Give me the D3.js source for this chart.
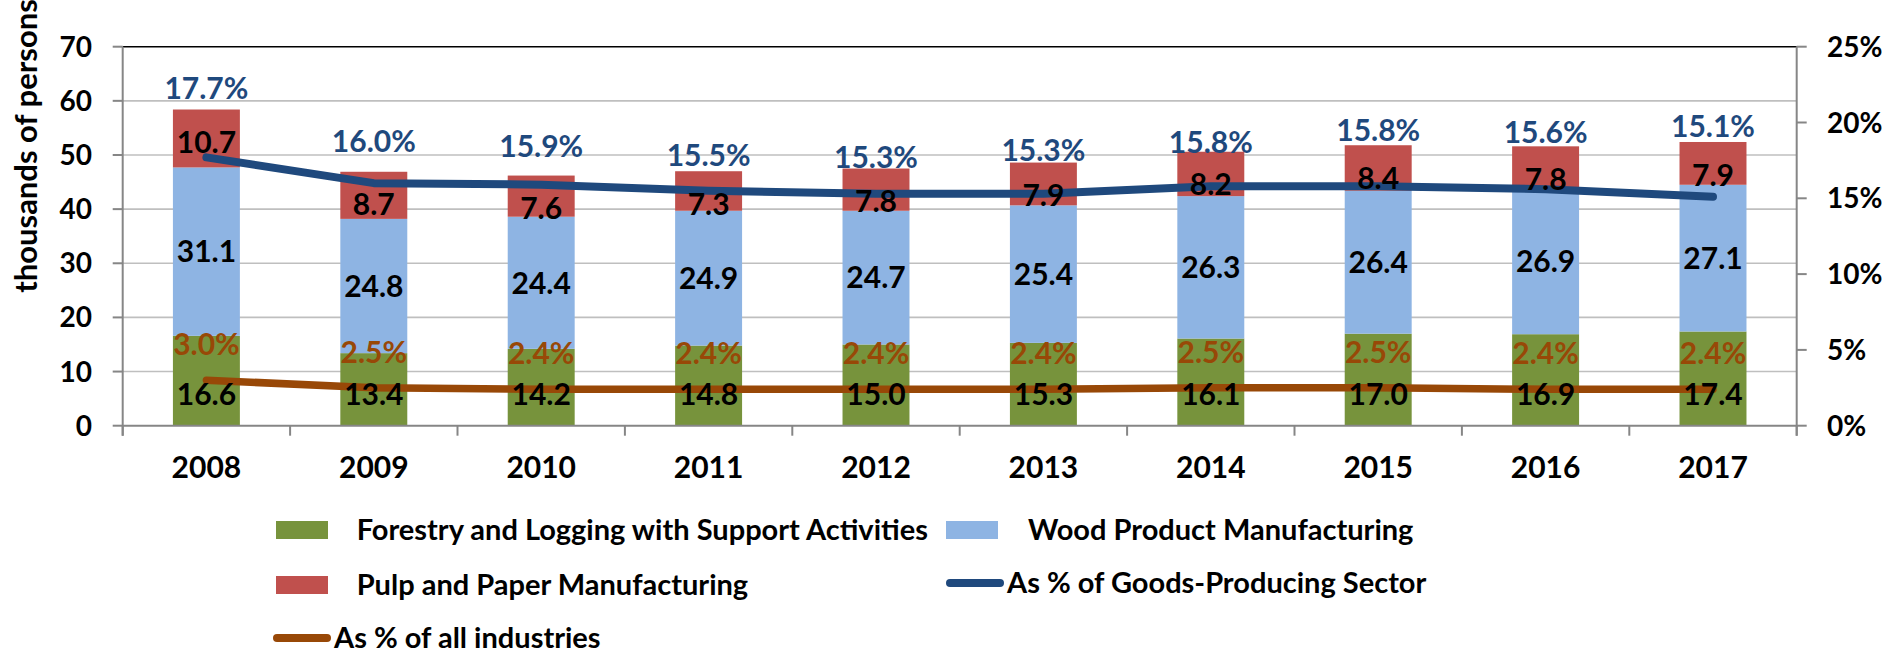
<!DOCTYPE html>
<html>
<head>
<meta charset="utf-8">
<script src="https://cdn.jsdelivr.net/npm/d3@7"></script>
<style>
  html, body { margin: 0; padding: 0; background: #ffffff; }
  svg { display: block; }
  text { font-family: "Lato", "Carlito", "Calibri", sans-serif; font-weight: 700; }
</style>
</head>
<body>
<svg id="chart" width="1887" height="653"></svg>
<script>
// ---------------- data ----------------
const years = ["2008","2009","2010","2011","2012","2013","2014","2015","2016","2017"];
const forestry = [16.6, 13.4, 14.2, 14.8, 15.0, 15.3, 16.1, 17.0, 16.9, 17.4];
const woodProduct = [31.1, 24.8, 24.4, 24.9, 24.7, 25.4, 26.3, 26.4, 26.9, 27.1];
const pulpPaper = [10.7, 8.7, 7.6, 7.3, 7.8, 7.9, 8.2, 8.4, 7.8, 7.9];
const pctGoods = [17.7, 16.0, 15.9, 15.5, 15.3, 15.3, 15.8, 15.8, 15.6, 15.1];
const pctAll = [3.0, 2.5, 2.4, 2.4, 2.4, 2.4, 2.5, 2.5, 2.4, 2.4];
// label anchors for the "% of goods" labels (in left-axis units, as placed in the original)
const goodsLabelAt = [62.4, 52.6, 51.7, 50.0, 49.5, 50.9, 52.4, 54.6, 54.2, 55.4];
const leftTicks = [0, 10, 20, 30, 40, 50, 60, 70];
const rightTicks = [0, 0.05, 0.10, 0.15, 0.20, 0.25];
const seriesNames = ["Forestry and Logging with Support Activities", "Wood Product Manufacturing",
  "Pulp and Paper Manufacturing", "As % of Goods-Producing Sector", "As % of all industries"];
const yTitle = "thousands of persons";

// ---------------- layout ----------------
const C = { green: "#77933C", lblue: "#8EB4E3", red: "#C0504D", navy: "#1F497D", brown: "#984807",
  grid: "#BFBFBF", axis: "#868686" };
const X0 = 122.7, X1 = 1796.7, Y0 = 46.7, Y1 = 425.7;
const svg = d3.select("#chart");

const x = d3.scaleBand().domain(years).range([X0, X1]).paddingInner(0.6).paddingOuter(0.3);
const y = d3.scaleLinear().domain([0, 70]).range([Y1, Y0]);
const yR = d3.scaleLinear().domain([0, 0.25]).range([Y1, Y0]);
const cx = d => x(d) + x.bandwidth() / 2;

// gridlines
svg.append("g").selectAll("line").data(leftTicks.filter(t => t > 0 && t < 70)).join("line")
  .attr("x1", X0).attr("x2", X1).attr("y1", d => y(d)).attr("y2", d => y(d))
  .attr("stroke", C.grid).attr("stroke-width", 1.6);
// top border
svg.append("line").attr("x1", X0).attr("x2", X1).attr("y1", y(70)).attr("y2", y(70))
  .attr("stroke", "#000").attr("stroke-width", 1.6);

// stacked bars
const rows = years.map((yr, i) => ({ year: yr, f: forestry[i], w: woodProduct[i], p: pulpPaper[i] }));
const stack = d3.stack().keys(["f", "w", "p"])(rows);
const fills = { f: C.green, w: C.lblue, p: C.red };
svg.append("g").selectAll("g").data(stack).join("g").attr("fill", s => fills[s.key])
  .selectAll("rect").data(s => s).join("rect")
  .attr("x", d => x(d.data.year)).attr("width", x.bandwidth())
  .attr("y", d => y(d[1])).attr("height", d => y(d[0]) - y(d[1]));

// axes
const axisG = svg.append("g").attr("stroke", C.axis).attr("stroke-width", 2);
axisG.append("line").attr("x1", X0).attr("x2", X0).attr("y1", Y0).attr("y2", Y1 + 10);
axisG.append("line").attr("x1", X1).attr("x2", X1).attr("y1", Y0).attr("y2", Y1 + 10);
axisG.append("line").attr("x1", X0).attr("x2", X1).attr("y1", Y1).attr("y2", Y1);
axisG.selectAll(".lt").data(leftTicks).join("line")
  .attr("x1", X0 - 10).attr("x2", X0).attr("y1", d => y(d)).attr("y2", d => y(d));
axisG.selectAll(".rt").data(rightTicks).join("line").attr("class", "rt")
  .attr("x1", X1).attr("x2", X1 + 10).attr("y1", d => yR(d)).attr("y2", d => yR(d));
const bounds = years.map(d => x(d) - x.step() * x.paddingOuter()).concat([X1]);
axisG.selectAll(".bt").data(bounds).join("line").attr("class", "bt")
  .attr("x1", d => d).attr("x2", d => d).attr("y1", Y1).attr("y2", Y1 + 10);

// axis labels
const capH = fs => fs * 0.72;
svg.append("g").selectAll("text").data(leftTicks).join("text")
  .attr("x", 92).attr("y", d => y(d) + capH(28) / 2).attr("text-anchor", "end")
  .attr("font-size", 28).attr("fill", "#000").text(d => d);
svg.append("g").selectAll("text").data(rightTicks).join("text")
  .attr("x", 1827).attr("y", d => yR(d) + capH(28) / 2).attr("text-anchor", "start")
  .attr("font-size", 28).attr("fill", "#000").text(d => d3.format(".0%")(d));
svg.append("g").selectAll("text").data(years).join("text")
  .attr("x", d => cx(d)).attr("y", 466.7 + capH(30) / 2).attr("text-anchor", "middle")
  .attr("font-size", 30).attr("fill", "#000").text(d => d);
svg.append("text").attr("transform", "translate(37,146) rotate(-90)")
  .attr("text-anchor", "middle").attr("font-size", 31).attr("fill", "#000").text(yTitle);

// lines
const lineGoods = d3.line().x((d, i) => cx(years[i])).y(d => yR(d / 100));
svg.append("path").datum(pctGoods).attr("d", lineGoods).attr("fill", "none")
  .attr("stroke", C.navy).attr("stroke-width", 8).attr("stroke-linecap", "round").attr("stroke-linejoin", "round");
svg.append("path").datum(pctAll).attr("d", lineGoods).attr("fill", "none")
  .attr("stroke", C.brown).attr("stroke-width", 7.5).attr("stroke-linecap", "round").attr("stroke-linejoin", "round");

// data labels
const LF = 30;
const lbl = svg.append("g").attr("font-size", LF).attr("text-anchor", "middle");
// forestry: inside base
lbl.selectAll(".lf").data(rows).join("text").attr("class", "lf")
  .attr("x", d => cx(d.year)).attr("y", y(0) - 20.7).attr("fill", "#000")
  .text(d => d3.format(".1f")(d.f));
// wood: centred
lbl.selectAll(".lw").data(rows).join("text").attr("class", "lw")
  .attr("x", d => cx(d.year)).attr("y", d => (y(d.f) + y(d.f + d.w)) / 2 + capH(LF) / 2).attr("fill", "#000")
  .text(d => d3.format(".1f")(d.w));
// pulp: inside end
lbl.selectAll(".lp").data(rows).join("text").attr("class", "lp")
  .attr("x", d => cx(d.year)).attr("y", d => y(d.f + d.w + d.p) + 22 + capH(LF)).attr("fill", "#000")
  .text(d => d3.format(".1f")(d.p));
// % goods
lbl.selectAll(".lg").data(pctGoods).join("text").attr("class", "lg")
  .attr("x", (d, i) => cx(years[i])).attr("y", (d, i) => y(goodsLabelAt[i]) + capH(LF) / 2).attr("fill", C.navy)
  .text(d => d3.format(".1f")(d) + "%");
// % all
lbl.selectAll(".la").data(pctAll).join("text").attr("class", "la")
  .attr("x", (d, i) => cx(years[i])).attr("y", d => yR(d / 100) - 36 + capH(LF) / 2).attr("fill", C.brown)
  .text(d => d3.format(".1f")(d) + "%");

// legend
const LFS = 29;
const LG = svg.append("g").attr("font-size", LFS).attr("fill", "#000");
const legendItems = [
  { name: seriesNames[0], type: "rect", color: C.green, sx: 276, tx: 356.7, cy: 530 },
  { name: seriesNames[1], type: "rect", color: C.lblue, sx: 946, tx: 1028, cy: 530 },
  { name: seriesNames[2], type: "rect", color: C.red, sx: 276, tx: 356.7, cy: 585 },
  { name: seriesNames[3], type: "line", color: C.navy, sx: 946, tx: 1007, cy: 583 },
  { name: seriesNames[4], type: "line", color: C.brown, sx: 273, tx: 334, cy: 638 }
];
legendItems.forEach(it => {
  if (it.type === "rect") {
    LG.append("rect").attr("x", it.sx).attr("y", it.cy - 9).attr("width", 52).attr("height", 18).attr("fill", it.color);
  } else {
    LG.append("line").attr("x1", it.sx + 4).attr("x2", it.sx + 54).attr("y1", it.cy).attr("y2", it.cy)
      .attr("stroke", it.color).attr("stroke-width", 8).attr("stroke-linecap", "round");
  }
  LG.append("text").attr("x", it.tx).attr("y", it.cy + capH(LFS) / 2).text(it.name);
});
</script>
</body>
</html>
